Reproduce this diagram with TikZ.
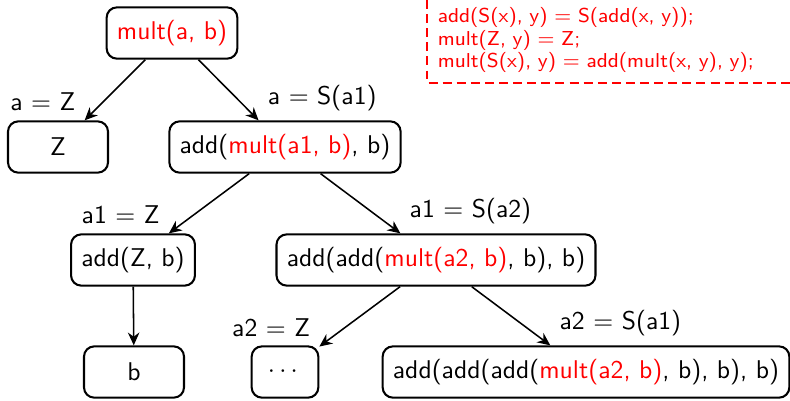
\documentclass[tikz,border=0pt]{standalone}
\usepackage{amsmath}
\usepackage{tikz}
\usetikzlibrary{arrows.meta,positioning}
\renewcommand{\familydefault}{\sfdefault}

\begin{document}
\begin{tikzpicture}[
    x=0.39pt, y=-0.39pt,
    term/.style={draw, rounded corners, line width=0.8pt,
      minimum height=20pt, minimum width=39pt, inner xsep=4pt},
    rules/.style={align=left, text=red, inner xsep=4pt, inner ysep=0pt,
      font=\fontsize{7.85}{8.8}\selectfont},
    ruleline/.style={red, line width=1pt, dash pattern=on 3.5pt off 2pt},
    arrow/.style={-{Stealth[length=5pt, width=4.5pt]}, semithick}
  ]
  \useasboundingbox (0,0) rectangle (790,400);

  \node[term] (mab) at (172,33) {\color{red}mult(a, b)};
  \node[term] (z) at (58,147) {Z};
  \node[term] (addm1) at (285,147) {add(\textcolor{red}{mult(a1, b)}, b)};
  \node[term] (addz) at (133,260) {add(Z, b)};
  \node[term] (addm2) at (436,260) {add(add(\textcolor{red}{mult(a2, b)}, b), b)};
  \node[term] (b) at (134,372) {b};
  \node[term, minimum width=26pt] (dots) at (285,372) {$\cdots$};
  \node[term] (addm3) at (586,372)
    {add(add(add(\textcolor{red}{mult(a2, b)}, b), b), b)};

  % rewrite rules
  \node[rules, anchor=north west, text width=133pt, minimum height=31pt] (rules) at (427,0)
    {add(S(x), y) $=$ S(add(x, y));\\
     mult(Z, y) $=$ Z;\\
     mult(S(x), y) $=$ add(mult(x, y), y);};
  \draw[ruleline] (rules.north west) |- ([yshift=-1pt]rules.south east);

  \draw[arrow] (mab) -- node[pos=1, above left] {a $=$ Z} (z);
  \draw[arrow] (mab) -- node[pos=1, above right] {a $=$ S(a1)} (addm1);
  \draw[arrow] (addm1) -- node[pos=1, above left] {a1 $=$ Z} (addz);
  \draw[arrow] (addm1) -- node[pos=1, above right] {a1 $=$ S(a2)} (addm2);
  \draw[arrow] (addz) -- (b);
  \draw[arrow] (addm2) -- node[pos=1, above left] {a2 $=$ Z} (dots);
  \draw[arrow] (addm2) -- node[pos=1, above right] {a2 $=$ S(a1)} (addm3);
\end{tikzpicture}
\end{document}
